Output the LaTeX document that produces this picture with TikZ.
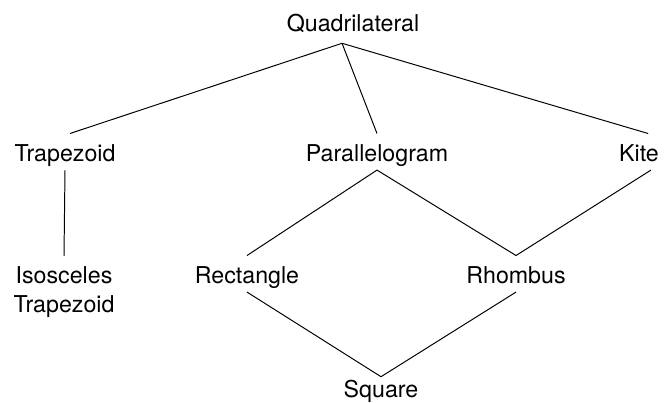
\documentclass[tikz,border=0pt]{standalone}
\usepackage{fontspec}
\setmainfont{TeX Gyre Heros}
\begin{document}
\begin{tikzpicture}[
        x=0.025cm, y=-0.025cm,
        every node/.style={inner sep=0pt, font=\fontsize{16.5}{20.6}\selectfont},
        shapename/.style={anchor=base, text height=0.68cm, text depth=0.22cm},
        link/.style={line width=0.7pt}
    ]
    \useasboundingbox (0,0) rectangle (670,402);

    \node[shapename, text depth=0.3cm] (quad) at (353,31) {Quadrilateral};
    \node[shapename] (trap) at (65,161) {Trapezoid};
    \node[shapename] (para) at (377,161) {Parallelogram};
    \node[shapename] (kite) at (639,161) {Kite};
    \node[anchor=north, align=center] (iso) at (64,266) {Isosceles\\Trapezoid};
    \node[shapename] (rect) at (247,283) {Rectangle};
    \node[shapename] (rhom) at (516,283) {Rhombus};
    \node[shapename, text height=0.5cm] (sq) at (381,397) {Square};

    \draw[link] ([xshift=-7.8pt]quad.south) -- ([xshift=3.5pt]trap.north);
    \draw[link] ([xshift=-7.8pt]quad.south) -- (para.north);
    \draw[link] ([xshift=-7.8pt]quad.south) -- ([xshift=6.5pt]kite.north);
    \draw[link] (trap.south) -- ([yshift=7pt]iso.north);
    \draw[link] (para.south) -- (rect.north);
    \draw[link] (para.south) -- (rhom.north);
    \draw[link] ([xshift=8.5pt]kite.south) -- (rhom.north);
    \draw[link] (rect.south) -- (sq.north);
    \draw[link] (rhom.south) -- (sq.north);
\end{tikzpicture}
\end{document}
